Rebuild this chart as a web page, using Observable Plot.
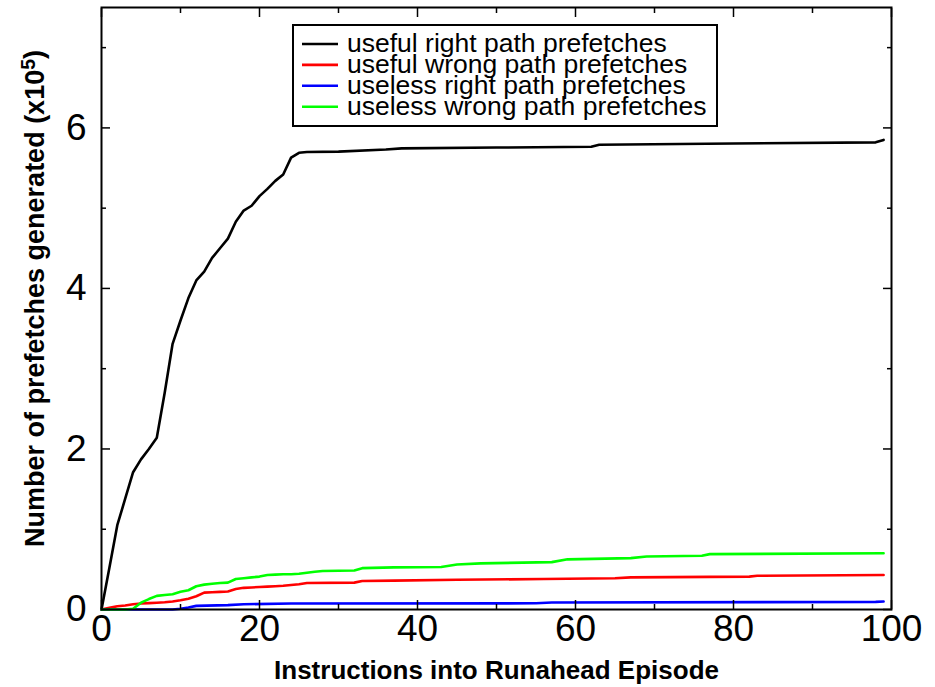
<!DOCTYPE html>
<html>
<head>
<meta charset="utf-8">
<script src="https://cdn.jsdelivr.net/npm/d3@7"></script>
<script src="https://cdn.jsdelivr.net/npm/@observablehq/plot@0.6"></script>
<style>
  html, body { margin: 0; padding: 0; background: #fff; }
  #wrap { position: relative; width: 935px; height: 687px; font-family: "Liberation Sans", Arial, sans-serif; }
  #legend { position: absolute; left: 292px; top: 24px; }
</style>
</head>
<body>
<div id="wrap"></div>
<script>
// ---- data ----
const seriesNames = [
  "useful right path prefetches",
  "useful wrong path prefetches",
  "useless right path prefetches",
  "useless wrong path prefetches"
];
const seriesColors = ["#000000", "#ff0000", "#0000ff", "#00ff00"];

const usefulRightX = [0,1,2,3,4,5,6,7,8,9,10,11,12,13,14,15,16,17,18,19,20,21,22,23,24,25,26,30,36,38,50,62,63,80,98,99];
const usefulRightY = [0,0.52,1.05,1.38,1.71,1.87,2.0,2.14,2.7,3.31,3.6,3.88,4.1,4.21,4.38,4.5,4.62,4.83,4.97,5.03,5.15,5.24,5.34,5.42,5.63,5.69,5.70,5.705,5.73,5.745,5.755,5.765,5.79,5.805,5.82,5.85];

const usefulWrongX = [0,1,2,3,4,5,6,7,8,9,10,11,12,13,14,15,16,17,18,19,20,21,22,23,24,25,26,32,33,37,45,56,65,67,82,83,99];
const usefulWrongY = [0,0.02,0.04,0.05,0.065,0.075,0.08,0.085,0.09,0.10,0.115,0.135,0.165,0.21,0.215,0.22,0.225,0.255,0.27,0.275,0.28,0.285,0.29,0.295,0.305,0.315,0.33,0.335,0.355,0.36,0.37,0.38,0.39,0.40,0.41,0.42,0.43];

const uselessRightX = [0,9,10,11,12,16,18,24,55,57,98,99];
const uselessRightY = [0,0,0.01,0.025,0.045,0.055,0.065,0.075,0.077,0.087,0.095,0.10];

const uselessWrongX = [0,1,2,3,4,5,6,7,8,9,10,11,12,13,14,15,16,17,18,19,20,21,22,23,24,25,27,28,32,33,37,43,45,48,57,59,67,69,76,77,99];
const uselessWrongY = [0,0,0,0,0.01,0.085,0.13,0.17,0.18,0.19,0.22,0.24,0.29,0.31,0.32,0.33,0.335,0.38,0.39,0.40,0.41,0.43,0.435,0.44,0.44,0.445,0.47,0.48,0.485,0.515,0.525,0.53,0.56,0.575,0.59,0.625,0.64,0.66,0.67,0.69,0.70];

const xMajorTicks = [0,20,40,60,80,100];
const xMinorTicks = [10,30,50,70,90];
const yMajorTicks = [0,2,4,6];
const yMinorTicks = [1,3,5,7];
const xTitle = "Instructions into Runahead Episode";
const yTitle = "Number of prefetches generated (x10\u2075)";

// ---- build table ----
const seriesXs = [usefulRightX, usefulWrongX, uselessRightX, uselessWrongX];
const seriesYs = [usefulRightY, usefulWrongY, uselessRightY, uselessWrongY];
const rows = [];
seriesNames.forEach((name, i) => {
  seriesXs[i].forEach((x, j) => rows.push({series: name, x, y: seriesYs[i][j]}));
});

const font = "'Liberation Sans', Arial, Helvetica, sans-serif";
const drawOrder = [0, 1, 2, 3];

const tickOnly = (axisFn, ticks, anchor, size, shift) =>
  axisFn({ticks, anchor, tickSize: size, fill: "none", label: null, strokeWidth: 1.5,
          ...(axisFn === Plot.axisX ? {dy: shift} : {dx: shift})});

const chart = Plot.plot({
  width: 935,
  height: 687,
  marginLeft: 101,
  marginRight: 44,
  marginTop: 7,
  marginBottom: 78,
  style: {fontFamily: font, background: "#fff", color: "#000", overflow: "visible"},
  x: {domain: [0, 100], label: null},
  y: {domain: [0, 7.5], label: null},
  marks: [
    ...drawOrder.map(i => Plot.line(rows.filter(d => d.series === seriesNames[i]),
      {x: "x", y: "y", stroke: seriesColors[i], strokeWidth: 2.6, strokeLinejoin: "round"})),
    // inward ticks, all four sides
    tickOnly(Plot.axisX, xMajorTicks, "bottom", 9, -9),
    tickOnly(Plot.axisX, xMinorTicks, "bottom", 5, -5),
    tickOnly(Plot.axisX, xMajorTicks, "top", 9, 9),
    tickOnly(Plot.axisX, xMinorTicks, "top", 5, 5),
    tickOnly(Plot.axisY, yMajorTicks, "left", 9, 9),
    tickOnly(Plot.axisY, yMinorTicks, "left", 5, 5),
    tickOnly(Plot.axisY, yMajorTicks, "right", 9, -9),
    tickOnly(Plot.axisY, yMinorTicks, "right", 5, -5),
    // tick labels
    Plot.axisX({ticks: xMajorTicks, anchor: "bottom", tickSize: 0, tickPadding: 5, fontSize: 37, label: null}),
    Plot.axisY({ticks: yMajorTicks, anchor: "left", tickSize: 0, tickPadding: 15, fontSize: 37, label: null}),
    Plot.frame({stroke: "#000", strokeWidth: 2}),
    // axis titles
    Plot.text([xTitle], {text: d => d, frameAnchor: "bottom", dy: 69, lineAnchor: "bottom",
      fontWeight: "bold", fontSize: 26}),
    Plot.text([yTitle], {text: d => d, frameAnchor: "left", dx: -58, dy: -10, rotate: -90,
      lineAnchor: "bottom", textAnchor: "middle", fontWeight: "bold", fontSize: 27})
  ]
});

const wrap = document.getElementById("wrap");
wrap.appendChild(chart);

// superscript in y title
d3.select(chart).selectAll("text").each(function() {
  if (this.textContent === yTitle) {
    const t = d3.select(this);
    t.text(null);
    t.append("tspan").text("Number of prefetches generated (x10");
    t.append("tspan").attr("dy", "-0.42em").attr("font-size", "0.72em").text("5");
    t.append("tspan").attr("dy", "0.3em").text(")");
  }
});

// legend box (inside the plot, upper middle)
const legW = 426, legH = 103, rowGap = 20.9, firstRow = 20;
const leg = d3.select(wrap).append("svg")
  .attr("id", "legend").attr("width", legW).attr("height", legH)
  .style("font-family", font);
leg.append("rect").attr("x", 1).attr("y", 1).attr("width", legW - 2).attr("height", legH - 2)
  .attr("fill", "#fff").attr("stroke", "#000").attr("stroke-width", 2);
seriesNames.forEach((name, i) => {
  const yy = firstRow + i * rowGap;
  leg.append("line").attr("x1", 10).attr("x2", 46).attr("y1", yy).attr("y2", yy)
    .attr("stroke", seriesColors[i]).attr("stroke-width", 2.6);
  leg.append("text").attr("x", 55).attr("y", yy + 7.8).attr("font-size", 26.5)
    .attr("fill", "#000").text(name);
});
</script>
</body>
</html>
